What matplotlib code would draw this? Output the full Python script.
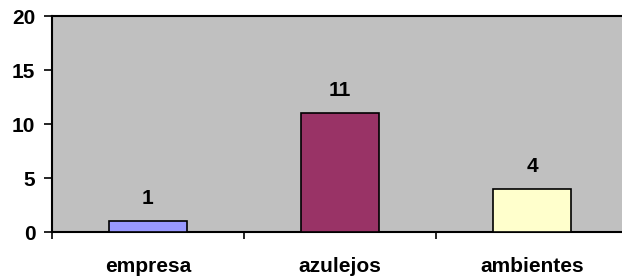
import matplotlib
matplotlib.use("Agg")
import matplotlib.pyplot as plt

categories = ["empresa", "azulejos", "ambientes"]
values = [1, 11, 4]
colors = ["#9999FF", "#993366", "#FFFFCC"]
yticks = [0, 5, 10, 15, 20]


def main():
    plt.rcParams['font.family'] = ['Liberation Sans', 'DejaVu Sans']
    plt.rcParams['font.weight'] = 'bold'

    fig = plt.figure(figsize=(6.22, 2.80), dpi=100)
    # plot area runs slightly past the right edge, as in the original
    ax = fig.add_axes([52 / 622, 1 - 232 / 280, 576 / 622, 216 / 280])
    ax.set_facecolor("#C0C0C0")

    x = list(range(len(categories)))
    bars = ax.bar(x, values, width=0.41, color=colors,
                  edgecolor="black", linewidth=1.2, zorder=3)
    for b, v in zip(bars, values):
        ax.annotate(str(v), (b.get_x() + b.get_width() / 2, v),
                    xytext=(0, 16), textcoords="offset points",
                    ha="center", va="center", fontsize=15, fontweight="bold")

    ax.set_xlim(-0.5, len(categories) - 0.5)
    ax.set_ylim(0, 20)
    ax.set_yticks(yticks)
    ax.set_yticklabels([str(t) for t in yticks], fontsize=15, fontweight="bold")

    # category labels, ticks on boundaries
    ax.set_xticks([i - 0.5 for i in range(len(categories) + 1)])
    ax.set_xticklabels([])
    ax.tick_params(axis="x", length=5, width=1.2, direction="out")
    ax.tick_params(axis="y", length=6, width=1.2, direction="out", pad=6)
    for i, c in enumerate(categories):
        ax.annotate(c, (i, 0), xytext=(0, -25), textcoords="offset points",
                    ha="center", va="center", fontsize=15,
                    fontweight="bold", annotation_clip=False)

    for s in ax.spines.values():
        s.set_linewidth(1.5)
    ax.spines["right"].set_visible(False)

    fig.savefig("out.png", dpi=100)


if __name__ == "__main__":
    main()
